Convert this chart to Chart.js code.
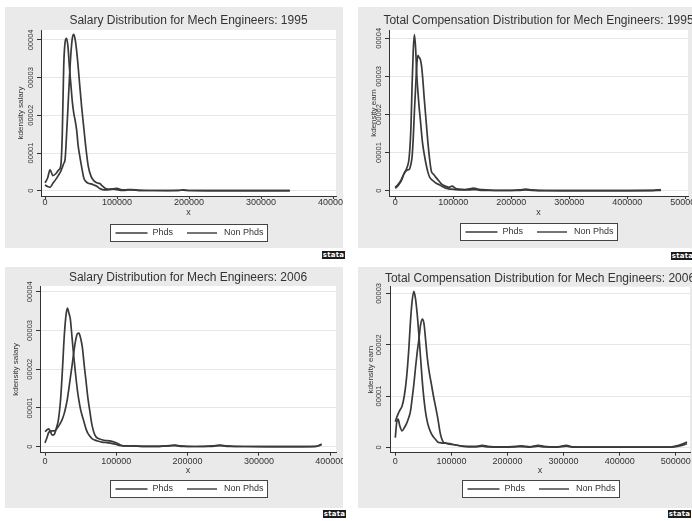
<!DOCTYPE html>
<html>
<head>
<meta charset="utf-8">
<title>Mech Engineers - kdensity</title>
<script src="https://cdn.jsdelivr.net/npm/chart.js@4.4.1/dist/chart.umd.min.js"></script>
<style>
  html, body { margin: 0; padding: 0; }
  body { width: 692px; height: 521px; overflow: hidden; position: relative; background: #fff; }
  .panel { position: absolute; background: #eaeaea; }
  .panel canvas { display: block; }
  .logo { position: absolute; width: 23px; height: 8px; background: #1c1c1c; color: #fff;
          font: bold 7px/8px "DejaVu Sans", sans-serif; text-align: center; letter-spacing: 0.2px; }
</style>
</head>
<body>
<div class="panel" style="left:5px;top:7px;width:338px;height:241px"><canvas id="c1" width="338" height="241"></canvas></div>
<div class="panel" style="left:358px;top:7px;width:337px;height:241px"><canvas id="c2" width="337" height="241"></canvas></div>
<div class="panel" style="left:5px;top:267px;width:338px;height:241px"><canvas id="c3" width="338" height="241"></canvas></div>
<div class="panel" style="left:358px;top:267px;width:337px;height:241px"><canvas id="c4" width="337" height="241"></canvas></div>
<div class="logo" style="left:322px;top:251px">stata</div>
<div class="logo" style="left:671px;top:252px">stata</div>
<div class="logo" style="left:323px;top:510px">stata</div>
<div class="logo" style="left:668px;top:510px">stata</div>
<script>
Chart.defaults.font.family = '"Liberation Sans", Arial, sans-serif';
Chart.defaults.color = '#333';

const titles = [
  'Salary Distribution for Mech Engineers: 1995',
  'Total Compensation Distribution for Mech Engineers: 1995',
  'Salary Distribution for Mech Engineers: 2006',
  'Total Compensation Distribution for Mech Engineers: 2006'
];
const legendLabels = ['Phds', 'Non Phds'];
const xTitle = 'x';
const xTicks400 = [0, 100000, 200000, 300000, 400000];
const xTicks500 = [0, 100000, 200000, 300000, 400000, 500000];
const yTicks4 = [0, 1, 2, 3, 4];
const yTicks3 = [0, 1, 2, 3];
const yTickLabels = ['0', '00001', '00002', '00003', '00004'];

// densities below are in units of 0.00001

// salary 1995
const sal95X = [0,3500,7000,11000,15000,19000,22000,24000,26000,28000,30000,32000,34000,36000,38000,40000,42000,44000,46000,48000,51000,54000,57000,60000,64000,68000,72000,76000,80000,85000,90000,95000,100000,105000,110000,115000,120000,130000,150000,170000,185000,192000,200000,230000,260000,300000,340000];
const sal95Phd = [0.15,0.11,0.09,0.2,0.3,0.42,0.52,0.62,0.72,0.85,1.5,2.25,3.0,3.65,4.05,4.15,4.0,3.7,3.3,2.85,2.2,1.65,1.1,0.66,0.38,0.26,0.21,0.19,0.12,0.05,0.04,0.05,0.06,0.03,0.02,0.03,0.03,0.01,0.005,0.005,0.01,0.015,0.005,0.003,0.002,0.002,0.002];
const sal95NonPhd = [0.21,0.33,0.55,0.40,0.45,0.55,0.68,1.5,3.3,3.95,4.04,3.8,3.25,2.8,2.35,2.05,1.85,1.6,1.2,0.95,0.62,0.33,0.24,0.2,0.18,0.15,0.12,0.06,0.03,0.02,0.03,0.04,0.03,0.01,0.01,0.02,0.02,0.01,0.005,0.003,0.005,0.02,0.005,0.002,0.002,0.002,0.002];

// total compensation 1995
const comp95X = [0,5000,10000,15000,20000,24000,27000,29000,31000,33000,35000,37000,39000,41000,43000,45000,47000,50000,53000,56000,59000,62000,66000,70000,75000,80000,86000,92000,98000,104000,110000,120000,128000,135000,142000,150000,170000,200000,215000,225000,235000,260000,300000,350000,400000,440000,458000];
const comp95Phd = [0.06,0.14,0.25,0.44,0.54,0.56,0.7,0.9,1.4,2.1,2.7,3.3,3.55,3.5,3.45,3.3,3.0,2.4,1.85,1.3,0.85,0.52,0.43,0.35,0.26,0.17,0.12,0.09,0.12,0.06,0.04,0.03,0.05,0.07,0.04,0.03,0.01,0.01,0.02,0.04,0.02,0.005,0.004,0.004,0.004,0.006,0.03];
const comp95NonPhd = [0.09,0.17,0.28,0.45,0.6,0.89,1.68,2.8,3.7,4.1,3.75,3.05,2.6,2.2,1.9,1.55,1.25,0.95,0.7,0.5,0.36,0.3,0.25,0.2,0.16,0.12,0.07,0.05,0.04,0.03,0.02,0.02,0.02,0.03,0.02,0.01,0.005,0.005,0.01,0.02,0.01,0.003,0.003,0.003,0.003,0.003,0.01];

// salary 2006
const sal06X = [0,2500,5000,7500,10000,13000,16000,19000,22000,24500,27000,29500,31500,33500,35500,38000,40500,43000,45500,47500,50000,52500,55000,57500,60000,63000,66000,70000,75000,80000,85000,90000,95000,100000,105000,110000,120000,140000,160000,175000,182000,190000,210000,235000,245000,255000,280000,320000,360000,380000,388000];
const sal06Phd = [0.1,0.22,0.36,0.4,0.41,0.41,0.45,0.53,0.62,0.72,0.86,1.05,1.25,1.5,1.77,2.1,2.45,2.75,2.92,2.93,2.8,2.55,2.1,1.7,1.28,0.9,0.55,0.3,0.21,0.18,0.16,0.15,0.13,0.1,0.05,0.02,0.02,0.01,0.01,0.03,0.04,0.02,0.005,0.02,0.04,0.02,0.005,0.003,0.003,0.01,0.07];
const sal06NonPhd = [0.39,0.43,0.46,0.40,0.30,0.32,0.48,0.72,1.25,2.0,2.85,3.4,3.58,3.45,3.3,2.8,2.3,1.85,1.45,1.2,0.95,0.78,0.62,0.46,0.35,0.27,0.21,0.17,0.14,0.12,0.11,0.1,0.08,0.06,0.03,0.02,0.02,0.01,0.01,0.02,0.03,0.01,0.005,0.01,0.03,0.01,0.005,0.003,0.003,0.005,0.05];

// total compensation 2006
const comp06X = [0,2500,5000,8000,12000,16000,20000,24000,27000,30000,33000,36000,39000,42000,45000,48000,51000,54000,57000,60000,64000,68000,72000,76000,80000,85000,90000,97000,105000,115000,130000,145000,155000,165000,190000,215000,225000,240000,255000,265000,290000,305000,315000,350000,400000,450000,490000,505000,520000];
const comp06Phd = [0.19,0.48,0.55,0.42,0.32,0.38,0.46,0.58,0.7,0.95,1.22,1.55,1.85,2.1,2.38,2.5,2.42,2.1,1.75,1.5,1.25,1.0,0.78,0.55,0.28,0.11,0.08,0.06,0.05,0.03,0.02,0.02,0.04,0.02,0.01,0.02,0.03,0.01,0.04,0.02,0.01,0.04,0.01,0.005,0.005,0.005,0.005,0.04,0.1];
const comp06NonPhd = [0.5,0.58,0.65,0.72,0.8,1.0,1.35,1.9,2.45,2.85,3.04,2.9,2.6,2.2,1.75,1.3,0.95,0.68,0.5,0.38,0.27,0.2,0.15,0.1,0.09,0.08,0.08,0.07,0.05,0.03,0.01,0.01,0.02,0.01,0.005,0.01,0.015,0.005,0.02,0.01,0.005,0.02,0.005,0.003,0.003,0.003,0.003,0.02,0.07];

const LINE = '#3a3a3a';
const FONT = '"Liberation Sans", Arial, sans-serif';

// placement of each graph inside its canvas (pixels)
const panels = [
  { id: 'c1', title: titles[0], yTitle: 'kdensity salary', xs: sal95X, phd: sal95Phd, non: sal95NonPhd,
    xTicks: xTicks400, yTicks: yTicks4, w: 338, h: 241, area: { l: 36, t: 23, r: 331, b: 189 },
    x0: 40, xPx: 72, y0: 183.7, yPx: 37.7, titleY: 13.7, yLabX: 25.5, yTitleX: 15.5,
    xLabY: 195.5, xTitleY: 206, legTop: 217, legH: 17 },
  { id: 'c2', title: titles[1], yTitle: 'kdensity earn', xs: comp95X, phd: comp95Phd, non: comp95NonPhd,
    xTicks: xTicks500, yTicks: yTicks4, w: 337, h: 241, area: { l: 31, t: 23, r: 330, b: 189 },
    x0: 37.3, xPx: 58, y0: 183.7, yPx: 38.1, titleY: 13.7, yLabX: 21.3, yTitleX: 16,
    xLabY: 195.5, xTitleY: 206, legTop: 216, legH: 17 },
  { id: 'c3', title: titles[2], yTitle: 'kdensity salary', xs: sal06X, phd: sal06Phd, non: sal06NonPhd,
    xTicks: xTicks400, yTicks: yTicks4, w: 338, h: 241, area: { l: 35, t: 19, r: 331, b: 185.7 },
    x0: 40, xPx: 71.3, y0: 179.7, yPx: 38.75, titleY: 10.3, yLabX: 25, yTitleX: 11,
    xLabY: 194.7, xTitleY: 203.7, legTop: 213, legH: 17 },
  { id: 'c4', title: titles[3], yTitle: 'kdensity earn', xs: comp06X, phd: comp06Phd, non: comp06NonPhd,
    xTicks: xTicks500, yTicks: yTicks3, w: 337, h: 241, area: { l: 32, t: 19.7, r: 332, b: 185.7 },
    x0: 37.3, xPx: 56.1, y0: 180.3, yPx: 51.3, titleY: 11.3, yLabX: 21.3, yTitleX: 13,
    xLabY: 194.7, xTitleY: 203.7, legTop: 213, legH: 17 }
];

// white plot region, title, vertical y labels and the boxed legend
function decor(p) {
  return {
    id: 'stataDecor',
    beforeDraw(chart) {
      const { ctx, chartArea: a } = chart;
      ctx.save();
      ctx.fillStyle = '#fff';
      ctx.fillRect(a.left, a.top, a.right - a.left, a.bottom - a.top);
      ctx.restore();
    },
    afterDraw(chart) {
      const { ctx, chartArea: a } = chart;
      const cx = (a.left + a.right) / 2;
      ctx.save();
      ctx.fillStyle = '#333';
      ctx.textAlign = 'center';
      ctx.textBaseline = 'middle';
      ctx.font = '12px ' + FONT;
      ctx.fillText(p.title, cx, p.titleY);

      ctx.font = '7.5px ' + FONT;
      p.yTicks.forEach((v, i) => {
        const py = chart.scales.y.getPixelForValue(v);
        ctx.save();
        ctx.translate(p.yLabX, py);
        ctx.rotate(-Math.PI / 2);
        ctx.fillText(yTickLabels[i], 0, 0);
        ctx.restore();
      });

      ctx.font = '9px ' + FONT;
      const labels = chart.data.datasets.map(d => d.label);
      const w = labels.map(t => ctx.measureText(t).width);
      const W = Math.round(5 + 32 + 5 + w[0] + 14 + 30 + 7 + w[1] + 4);
      const bx = Math.round(cx - W / 2) + 0.5, by = Math.round(p.legTop) + 0.5;
      ctx.fillStyle = '#fff';
      ctx.fillRect(bx, by, W, p.legH);
      ctx.strokeStyle = '#444';
      ctx.lineWidth = 1;
      ctx.strokeRect(bx, by, W, p.legH);
      const cy = by + p.legH / 2;
      ctx.strokeStyle = LINE;
      ctx.lineWidth = 1.4;
      ctx.fillStyle = '#333';
      ctx.textAlign = 'left';
      let x = bx + 5;
      ctx.beginPath(); ctx.moveTo(x, cy); ctx.lineTo(x + 32, cy); ctx.stroke();
      x += 37;
      ctx.fillText(labels[0], x, cy);
      x += w[0] + 14;
      ctx.beginPath(); ctx.moveTo(x, cy); ctx.lineTo(x + 30, cy); ctx.stroke();
      x += 37;
      ctx.fillText(labels[1], x, cy);
      ctx.restore();
    }
  };
}

function build(p) {
  const a = p.area;
  const xAxisH = p.xTitleY + 4.5 - a.b;
  const pts = ys => p.xs.map((x, i) => ({ x, y: ys[i] }));
  const line = { borderColor: LINE, borderWidth: 1.7, pointRadius: 0, cubicInterpolationMode: 'monotone', fill: false };
  new Chart(document.getElementById(p.id), {
    type: 'line',
    data: {
      datasets: [
        { label: legendLabels[0], data: pts(p.phd), ...line },
        { label: legendLabels[1], data: pts(p.non), ...line }
      ]
    },
    options: {
      responsive: false,
      animation: false,
      events: [],
      layout: { padding: { left: 0, top: a.t, right: p.w - a.r, bottom: p.h - a.b - xAxisH } },
      plugins: { legend: { display: false }, title: { display: false }, tooltip: { enabled: false } },
      scales: {
        x: {
          type: 'linear',
          min: -(p.x0 - a.l) / p.xPx * 1e5,
          max: (a.r - p.x0) / p.xPx * 1e5,
          afterBuildTicks: s => { s.ticks = p.xTicks.map(v => ({ value: v })); },
          afterFit: s => { s.height = xAxisH; s.paddingLeft = 0; s.paddingRight = 0; },
          grid: { drawOnChartArea: false, tickLength: 3, tickColor: '#333' },
          border: { color: '#333', width: 1 },
          ticks: { font: { size: 9, lineHeight: 1 }, padding: p.xLabY - a.b - 3 - 4.5, color: '#333',
                   maxRotation: 0, autoSkip: false, callback: v => String(v) },
          title: { display: true, text: xTitle, font: { size: 9, lineHeight: 1 }, padding: 0, color: '#333' }
        },
        y: {
          min: -(a.b - p.y0) / p.yPx,
          max: (p.y0 - a.t) / p.yPx,
          afterBuildTicks: s => { s.ticks = p.yTicks.map(v => ({ value: v })); },
          afterFit: s => { s.width = a.l; s.paddingTop = 0; s.paddingBottom = 0; },
          grid: { color: '#e6e6e6', tickColor: '#333', tickLength: 4 },
          border: { color: '#333', width: 1 },
          ticks: { display: false },
          title: { display: true, text: p.yTitle, font: { size: 8, lineHeight: 1 },
                   padding: { top: p.yTitleX - 4, bottom: 0 }, color: '#333' }
        }
      }
    },
    plugins: [decor(p)]
  });
}

panels.forEach(build);
</script>
</body>
</html>
